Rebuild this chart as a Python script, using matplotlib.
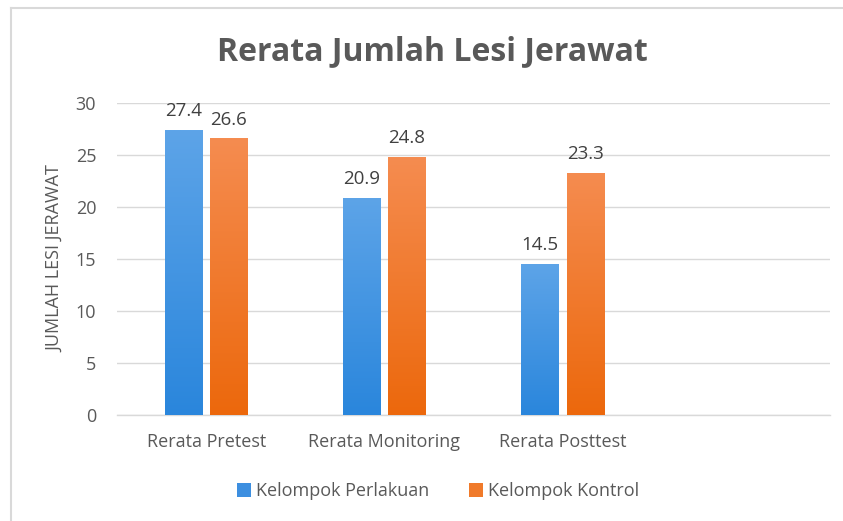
import matplotlib
matplotlib.use("Agg")
import matplotlib.pyplot as plt
import numpy as np
from matplotlib.colors import LinearSegmentedColormap
from matplotlib.patches import Patch
from matplotlib.lines import Line2D

categories = ["Rerata Pretest", "Rerata Monitoring", "Rerata Posttest", ""]
perlakuan = [27.4, 20.9, 14.5]
kontrol = [26.6, 24.8, 23.3]
series_names = ["Kelompok Perlakuan", "Kelompok Kontrol"]
yticks = [0, 5, 10, 15, 20, 25, 30]

plt.rcParams['font.family'] = ['Open Sans', 'DejaVu Sans']

fig = plt.figure(figsize=(8.43, 5.21), dpi=100)
ax = fig.add_axes([0.1388, 0.2035, 0.9846 - 0.1388, 0.8023 - 0.2035])

x = np.arange(len(categories))
w = 0.21
off = 0.127

blue_cmap = LinearSegmentedColormap.from_list("b", ["#2A86DC", "#5DA4E8"])
orange_cmap = LinearSegmentedColormap.from_list("o", ["#EC680C", "#F58C50"])

def grad_bars(xs, vals, cmap, base):
    bars = ax.bar(xs, vals, width=w, color=base, zorder=3, linewidth=0)
    grad = np.linspace(0, 1, 256).reshape(-1, 1)
    for b in bars:
        x0, y0 = b.get_x(), b.get_y()
        im = ax.imshow(grad, cmap=cmap, origin="lower", aspect="auto",
                       extent=[x0, x0 + b.get_width(), y0, y0 + b.get_height()],
                       zorder=3.5)
        im.set_clip_path(b)
    return bars

bb = grad_bars(x[:3] - off, perlakuan, blue_cmap, "#3D8FE0")
bo = grad_bars(x[:3] + off, kontrol, orange_cmap, "#F07A2A")

for xs, vals in ((x[:3] - off, perlakuan), (x[:3] + off, kontrol)):
    for xi, v in zip(xs, vals):
        ax.annotate(f"{v}", (xi, v), xytext=(0, 7), textcoords="offset points",
                    ha="center", va="bottom", fontsize=13.5, color="#404040", zorder=5)

ax.set_xlim(-0.5, 3.5)
ax.set_ylim(0, 30)
ax.set_yticks(yticks)
ax.set_xticks(x)
ax.set_xticklabels(categories)
ax.tick_params(axis="both", length=0, labelsize=13, labelcolor="#595959")
ax.tick_params(axis="y", pad=15)
ax.tick_params(axis="x", pad=13)
ax.grid(axis="y", color="#D9D9D9", linewidth=1, zorder=0)
for s in ("top", "right", "left"):
    ax.spines[s].set_visible(False)
ax.spines["bottom"].set_color("#D9D9D9")
ax.spines["bottom"].set_linewidth(1)
ax.set_axisbelow(True)

ax.set_ylabel("JUMLAH LESI JERAWAT", fontsize=13, color="#595959", labelpad=8)

fig.text(0.513, 0.9, "Rerata Jumlah Lesi Jerawat", ha="center", va="center",
         fontsize=23, fontweight="bold", color="#595959")

handles = [Patch(facecolor="#3D8FE0", edgecolor="none"),
           Patch(facecolor="#F07A2A", edgecolor="none")]
fig.legend(handles, series_names, loc="center", bbox_to_anchor=(0.52, 0.057),
           ncol=2, frameon=False, fontsize=13, labelcolor="#595959",
           handlelength=0.75, handleheight=0.75, handletextpad=0.3, columnspacing=2.2)

fig.add_artist(Line2D([11 / 843, 1], [1 - 8 / 521, 1 - 8 / 521], color="#D9D9D9", linewidth=1.5,
                      transform=fig.transFigure))
fig.add_artist(Line2D([11 / 843, 11 / 843], [0, 1 - 8 / 521], color="#D9D9D9", linewidth=1.5,
                      transform=fig.transFigure))

fig.savefig("out.png", dpi=100)
